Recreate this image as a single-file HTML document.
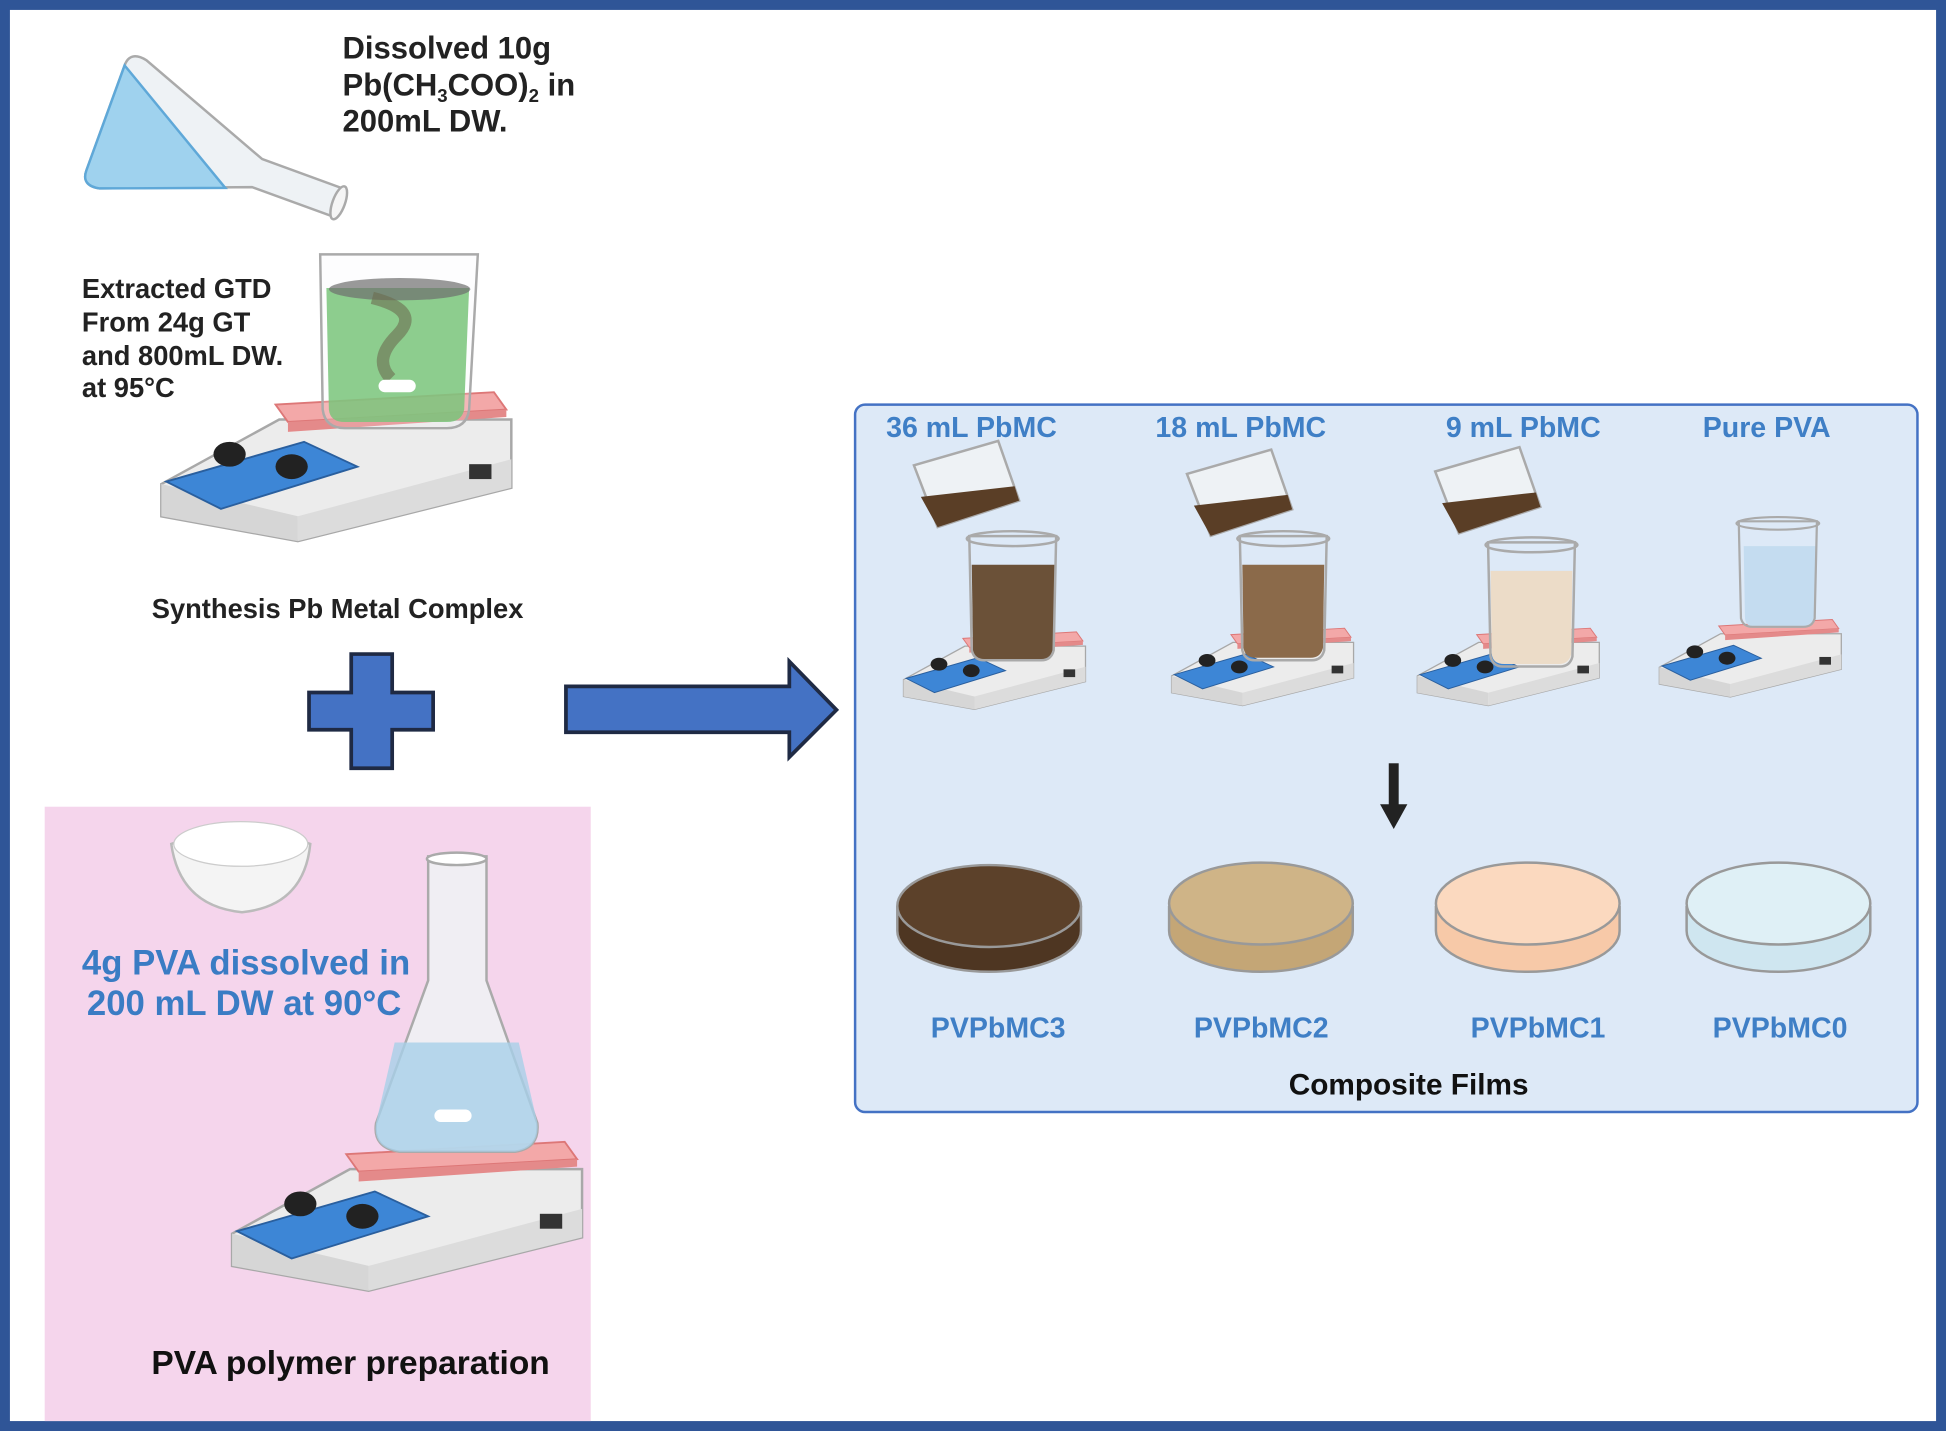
<!DOCTYPE html>
<html><head><meta charset="utf-8"><style>
html,body{margin:0;padding:0;background:#fff}
svg{display:block}
text{font-family:"Liberation Sans",sans-serif;font-weight:bold}
</style></head><body>
<svg width="1946" height="1431" viewBox="0 0 1568 1153" preserveAspectRatio="none" xmlns="http://www.w3.org/2000/svg">
<defs>
<g id="hp">
  <polygon points="0,82 95,30 282,30 282,85 110,128 0,108" fill="#ececec" stroke="#a8a8a8" stroke-width="2"/>
  <polygon points="0,82 110,108 110,128 0,108" fill="#d6d6d6"/>
  <polygon points="110,108 282,62 282,85 110,128" fill="#dcdcdc"/>
  <polygon points="4,80 115,48 158,68 48,102" fill="#3d86d6" stroke="#2a5f9e" stroke-width="1.5"/>
  <ellipse cx="55" cy="58" rx="13" ry="10" fill="#222"/>
  <ellipse cx="105" cy="68" rx="13" ry="10" fill="#222"/>
  <rect x="248" y="66" width="18" height="12" fill="#333"/>
  <polygon points="92,18 268,8 278,22 102,32" fill="#f3a8a8" stroke="#d77" stroke-width="1.5"/>
  <polygon points="102,32 278,22 278,28 102,40" fill="#e48a8a"/>
</g>
<g id="bk">
  <path d="M0,0 L70,0 L68,92 Q66,100 58,100 L12,100 Q4,100 2,92 Z" fill="none" stroke="#aaa" stroke-width="2"/>
  <ellipse cx="35" cy="2" rx="37" ry="6" fill="none" stroke="#aaa" stroke-width="2"/>
</g>
<g id="hand">
  <path d="M0,10 L70,0 L80,50 L12,62 Z" fill="#eef2f5" stroke="#aaa" stroke-width="2"/>
  <path d="M2,36 L78,38 L80,50 L12,62 Z" fill="#5a3e26"/>
</g>
</defs>
<rect x="4" y="4" width="1560" height="1145" fill="#fff" stroke="#2f5597" stroke-width="8"/>

<!-- top flask -->
<g transform="translate(85,95) rotate(110)">
  <path d="M-12,-200 L12,-200 L12,-130 L55,-15 Q58,0 45,0 L-45,0 Q-58,0 -55,-15 L-12,-130 Z" fill="#eef2f5" stroke="#aaa" stroke-width="2"/>
  <path d="M-45,0 L45,0 Q58,0 55,-15 L20,-110 Z" fill="#9fd2ee" stroke="#5fa8d8" stroke-width="2"/>
  <ellipse cx="0" cy="-200" rx="14" ry="5" fill="#f5f5f5" stroke="#aaa" stroke-width="2"/>
</g>
<text x="276" y="47" font-size="25" fill="#222">Dissolved 10g</text>
<text x="276" y="77" font-size="25" fill="#222">Pb(CH<tspan font-size="15" dy="5">3</tspan><tspan dy="-5">COO)</tspan><tspan font-size="15" dy="5">2</tspan><tspan dy="-5"> in</tspan></text>
<text x="276" y="106" font-size="25" fill="#222">200mL DW.</text>

<!-- GTD hotplate -->
<use href="#hp" transform="translate(130,308)"/>
<path d="M263,232 L378,232 L374,330 Q372,340 360,340 L278,340 Q266,340 265,330 Z" fill="#5cb85c" fill-opacity="0.85"/>
<path d="M258,205 L385,205 L378,330 Q376,345 360,345 L278,345 Q262,345 260,330 Z" fill="#f3f6f8" fill-opacity="0.2" stroke="#aaa" stroke-width="2"/>
<ellipse cx="322" cy="233" rx="57" ry="9" fill="#6d6d6d" fill-opacity="0.7"/>
<path d="M300,240 Q340,250 320,270 Q300,290 315,305" stroke="#6d6d50" stroke-width="10" fill="none" opacity="0.6"/>
<rect x="305" y="306" width="30" height="10" rx="5" fill="#fff"/>
<text x="66" y="240" font-size="22" fill="#222">Extracted GTD</text>
<text x="66" y="267" font-size="22" fill="#222">From 24g GT</text>
<text x="66" y="294" font-size="22" fill="#222">and 800mL DW.</text>
<text x="66" y="320" font-size="22" fill="#222">at 95°C</text>
<text x="272" y="498" font-size="22" fill="#222" text-anchor="middle">Synthesis Pb Metal Complex</text>

<!-- plus -->
<path d="M283,527 L316,527 L316,558 L349,558 L349,588 L316,588 L316,619 L283,619 L283,588 L249,588 L249,558 L283,558 Z" fill="#4472c4" stroke="#1f2a44" stroke-width="3"/>
<!-- arrow -->
<path d="M456,553 L636,553 L636,533 L674,572 L636,610 L636,590 L456,590 Z" fill="#4472c4" stroke="#1f2a44" stroke-width="3"/>

<!-- pink box -->
<rect x="36" y="650" width="440" height="495" fill="#f5d5ec"/>
<path d="M138,680 Q195,660 250,680 Q245,730 195,735 Q145,730 138,680Z" fill="#f4f4f4" stroke="#bbb" stroke-width="2"/>
<ellipse cx="194" cy="680" rx="54" ry="18" fill="#fff" stroke="#ccc"/>
<use href="#hp" transform="translate(187,912)"/>
<path d="M345,690 L392,690 L392,790 L433,905 Q435,925 415,928 L322,928 Q300,925 303,905 L345,790 Z" fill="#eef2f5" fill-opacity="0.85" stroke="#aaa" stroke-width="2"/>
<ellipse cx="368" cy="692" rx="24" ry="5" fill="#fff" stroke="#aaa" stroke-width="2"/>
<path d="M318,840 L418,840 L433,905 Q435,925 415,928 L322,928 Q300,925 303,905 Z" fill="#a8cfe8" fill-opacity="0.8"/>
<rect x="350" y="894" width="30" height="10" rx="5" fill="#fff"/>
<text x="66" y="785" font-size="28" fill="#3a7cc4">4g PVA dissolved in</text>
<text x="70" y="818" font-size="28" fill="#3a7cc4">200 mL DW at 90°C</text>
<text x="122" y="1107" font-size="27" fill="#111">PVA polymer preparation</text>

<!-- panel -->
<rect x="689" y="326" width="856" height="570" rx="8" fill="#dde9f7" stroke="#4472c4" stroke-width="2"/>
<g font-size="23" fill="#3f7fc6">
<text x="714" y="352">36 mL PbMC</text>
<text x="931" y="352">18 mL PbMC</text>
<text x="1165" y="352">9 mL PbMC</text>
<text x="1372" y="352">Pure PVA</text>
<text x="750" y="836">PVPbMC3</text>
<text x="962" y="836">PVPbMC2</text>
<text x="1185" y="836">PVPbMC1</text>
<text x="1380" y="836">PVPbMC0</text>
</g>
<text x="1135" y="882" font-size="24" fill="#111" text-anchor="middle">Composite Films</text>

<!-- small setups -->
<g transform="translate(728,505) scale(0.52)"><use href="#hp"/></g>
<g transform="translate(944,502) scale(0.52)"><use href="#hp"/></g>
<g transform="translate(1142,502) scale(0.52)"><use href="#hp"/></g>
<g transform="translate(1337,495) scale(0.52)"><use href="#hp"/></g>

<path d="M783,455 L851,455 L849,524 Q847,532 839,532 L795,532 Q785,532 784,524 Z" fill="#6b5138"/>
<use href="#bk" transform="translate(781,432)"/>
<path d="M1001,455 L1067,455 L1066,522 Q1064,530 1056,530 L1012,530 Q1003,530 1002,522 Z" fill="#8b6a4a"/>
<use href="#bk" transform="translate(999,432)"/>
<path d="M1201,460 L1267,460 L1266,527 Q1264,535 1256,535 L1212,535 Q1203,535 1202,527 Z" fill="#ecdcc8"/>
<use href="#bk" transform="translate(1199,437)"/>
<path d="M1405,440 L1463,440 L1462,497 Q1460,505 1452,505 L1414,505 Q1406,505 1406,497 Z" fill="#c4dcf0"/>
<use href="#bk" transform="translate(1401,420) scale(0.9,0.85)"/>

<use href="#hand" transform="translate(735,365) rotate(-8)"/>
<use href="#hand" transform="translate(955,372) rotate(-8)"/>
<use href="#hand" transform="translate(1155,370) rotate(-8)"/>

<!-- down arrow -->
<rect x="1119" y="615" width="8" height="35" fill="#222"/>
<polygon points="1112,648 1134,648 1123,668" fill="#222"/>

<!-- petri dishes -->
<g stroke="#999" stroke-width="2">
<path d="M723,730 L723,750 A74,33 0 0 0 871,750 L871,730" fill="#4e3622"/>
<ellipse cx="797" cy="730" rx="74" ry="33" fill="#5c412a"/>
<path d="M942,730 L942,750 A74,33 0 0 0 1090,750 L1090,730" fill="#c4a676"/>
<ellipse cx="1016" cy="728" rx="74" ry="33" fill="#cfb487"/>
<path d="M1157,730 L1157,750 A74,33 0 0 0 1305,750 L1305,730" fill="#f7c9a8"/>
<ellipse cx="1231" cy="728" rx="74" ry="33" fill="#fbd9bf"/>
<path d="M1359,730 L1359,750 A74,33 0 0 0 1507,750 L1507,730" fill="#cfe6f0"/>
<ellipse cx="1433" cy="728" rx="74" ry="33" fill="#dff0f6"/>
</g>
</svg>
</body></html>
